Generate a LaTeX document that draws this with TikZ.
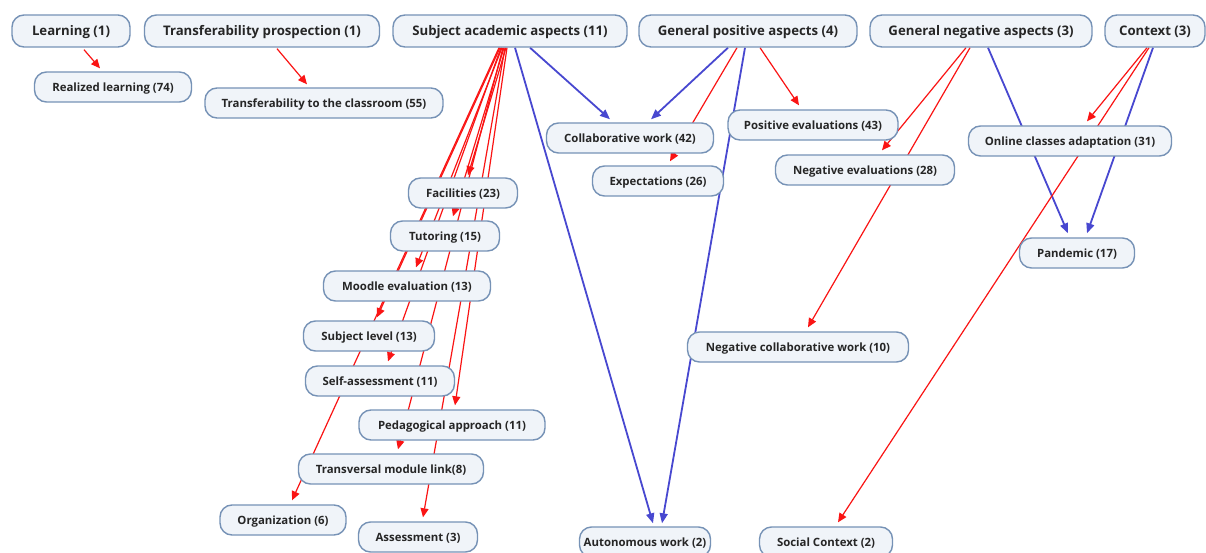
\documentclass[tikz,border=0pt]{standalone}
\usepackage{fontspec}
\setmainfont{Open Sans}
\usetikzlibrary{arrows.meta,backgrounds}
\pgfdeclarelayer{edges}
\pgfsetlayers{background,edges,main}
\definecolor{nfill}{RGB}{240,244,249}
\definecolor{nborder}{RGB}{118,146,182}
\definecolor{ared}{RGB}{250,20,20}
\definecolor{ablue}{RGB}{72,72,208}
\tikzset{
  box/.style={draw=nborder, fill=nfill, line width=1.4pt, rounded corners=12pt, inner sep=0pt, align=center, font=\bfseries\fontsize{11.4}{13}\selectfont, text=black!85, minimum height=30pt, text height=1.1em, text depth=0.25em},
  topbox/.style={box, minimum height=32pt, font=\bfseries\fontsize{13.2}{15}\selectfont},
  redarr/.style={draw=ared, line width=1.2pt, -{Triangle[length=9pt,width=8pt]}},
  bluearr/.style={draw=ablue, line width=1.8pt, -{Triangle[length=10pt,width=8pt]}},
}
\begin{document}
\begin{tikzpicture}[x=1pt,y=-1pt]
\begin{pgfonlayer}{background}
\fill[white] (0,0) rectangle (1206,553);
\end{pgfonlayer}
\useasboundingbox (0,0) rectangle (1206,553);
% top row
\node[topbox, minimum width=118pt] (learn) at (71,31) {Learning (1)};
\node[topbox, minimum width=235pt] (tprosp) at (262,31) {Transferability prospection (1)};
\node[topbox, minimum width=234pt] (saa) at (510,31) {Subject academic aspects (11)};
\node[topbox, minimum width=218pt] (gpa) at (748,31) {General positive aspects (4)};
\node[topbox, minimum width=222pt] (gna) at (981,31) {General negative aspects (3)};
\node[topbox, minimum width=100pt] (ctx) at (1155,31) {Context (3)};
% second level
\node[box, minimum width=157pt] (real) at (113,87) {Realized learning (74)};
\node[box, minimum width=238pt] (tclass) at (324,103) {Transferability to the classroom (55)};
\node[box, minimum width=167pt] (collab) at (630,138) {Collaborative work (42)};
\node[box, minimum width=170pt] (poseval) at (813,125) {Positive evaluations (43)};
\node[box, minimum width=131pt] (expect) at (658,181) {Expectations (26)};
\node[box, minimum width=179pt] (negeval) at (865,170) {Negative evaluations (28)};
\node[box, minimum width=203pt] (online) at (1070,141) {Online classes adaptation (31)};
\node[box, minimum width=115pt] (pand) at (1077,253) {Pandemic (17)};
\node[box, minimum width=109pt] (fac) at (463,193) {Facilities (23)};
\node[box, minimum width=109pt] (tut) at (445,236) {Tutoring (15)};
\node[box, minimum width=167pt] (moodle) at (407,286) {Moodle evaluation (13)};
\node[box, minimum width=131pt] (sublev) at (369,336) {Subject level (13)};
\node[box, minimum width=149pt] (selfa) at (380,381) {Self-assessment (11)};
\node[box, minimum width=186pt] (ped) at (452,425) {Pedagogical approach (11)};
\node[box, minimum width=185pt] (trans) at (391,469) {Transversal module link(8)};
\node[box, minimum width=126pt] (org) at (283,520) {Organization (6)};
\node[box, minimum width=119pt] (assess) at (418,537) {Assessment (3)};
\node[box, minimum width=221pt] (negcol) at (798,347) {Negative collaborative work (10)};
\node[box, minimum width=131pt] (auton) at (645,542) {Autonomous work (2)};
\node[box, minimum width=133pt] (social) at (826,542) {Social Context (2)};
% connectors
\begin{pgfonlayer}{edges}
\draw[redarr] ([xshift=13pt,yshift=-2pt]learn.south) -- ([xshift=-13pt,yshift=3pt]real.north);
\draw[redarr] ([xshift=15pt,yshift=-1pt]tprosp.south) -- ([xshift=-17pt,yshift=3pt]tclass.north);
% subject academic aspects
\draw[redarr] ([xshift=-4pt]saa.south) -- ([xshift=5pt,yshift=2pt]fac.north);
\draw[redarr] ([xshift=-6pt]saa.south) -- ([xshift=8pt,yshift=4pt]tut.north);
\draw[redarr] ([xshift=-8pt]saa.south) -- ([xshift=9pt,yshift=3pt]moodle.north);
\draw[redarr] ([xshift=-10pt]saa.south) -- ([xshift=8pt,yshift=3pt]sublev.north);
\draw[redarr] ([xshift=-9pt]saa.south) -- ([xshift=8pt,yshift=4pt]selfa.north);
\draw[redarr] ([xshift=-3pt]saa.south) -- ([xshift=3pt,yshift=4pt]ped.north);
\draw[redarr] ([xshift=-7pt]saa.south) -- ([xshift=7pt,yshift=4pt]trans.north);
\draw[redarr] ([xshift=-11pt]saa.south) -- ([xshift=9pt,yshift=4pt]org.north);
\draw[redarr] ([xshift=-5pt]saa.south) -- ([xshift=5pt,yshift=4pt]assess.north);
\draw[bluearr] ([xshift=20pt]saa.south) -- ([xshift=-20pt,yshift=3pt]collab.north);
\draw[bluearr] ([xshift=5pt]saa.south) -- ([xshift=8pt,yshift=3pt]auton.north);
% general positive aspects
\draw[bluearr] ([xshift=-20pt]gpa.south) -- ([xshift=21pt,yshift=3pt]collab.north);
\draw[redarr] ([xshift=-11pt]gpa.south) -- ([xshift=12pt,yshift=4pt]expect.north);
\draw[bluearr] ([xshift=-3pt]gpa.south) -- ([xshift=17pt,yshift=3pt]auton.north);
\draw[redarr] ([xshift=12pt]gpa.south) -- ([xshift=-14pt,yshift=4pt]poseval.north);
% general negative aspects
\draw[redarr] ([xshift=-15pt]gna.south) -- ([xshift=17pt,yshift=4pt]negeval.north);
\draw[redarr] ([xshift=-11pt]gna.south) -- ([xshift=10pt,yshift=4pt]negcol.north);
\draw[bluearr] ([xshift=7pt]gna.south) -- ([xshift=-9pt,yshift=4pt]pand.north);
% context
\draw[redarr] ([xshift=-8pt]ctx.south) -- ([xshift=17pt,yshift=4pt]online.north);
\draw[redarr] ([xshift=-6pt]ctx.south) -- ([xshift=12pt,yshift=4pt]social.north);
\draw[bluearr] ([xshift=-2pt]ctx.south) -- ([xshift=10pt,yshift=4pt]pand.north);
\end{pgfonlayer}
\end{tikzpicture}
\end{document}
